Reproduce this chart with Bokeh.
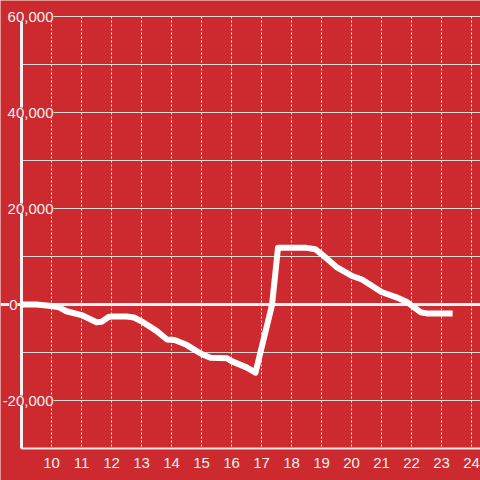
from bokeh.plotting import figure
from bokeh.models import Range1d, ColumnDataSource, LabelSet
from bokeh.core.properties import value
from bokeh.embed import file_html
from bokeh.resources import INLINE

# ---- data ----
hours = [9.0, 9.5, 10.0, 10.25, 10.5, 11.0, 11.5, 11.67, 11.9, 12.0, 12.5, 12.75,
         13.0, 13.5, 13.85, 14.1, 14.5, 15.0, 15.3, 15.85, 16.0, 16.5, 16.8,
         17.35, 17.55, 18.5, 18.8, 19.0, 19.5, 20.0, 20.35, 21.0, 21.5, 21.85,
         22.3, 22.55, 23.37]
values = [0, 0, -300, -600, -1400, -2200, -3700, -3600, -2600, -2500, -2500, -2700,
          -3500, -5500, -7300, -7400, -8400, -10300, -11100, -11200, -11800, -13100, -14200,
          -100, 11800, 11800, 11500, 10500, 7800, 6000, 5200, 2600, 1500, 500,
          -1600, -1900, -1900]
x_ticks = [10, 11, 12, 13, 14, 15, 16, 17, 18, 19, 20, 21, 22, 23, 24]
x_tick_labels = [str(t) for t in x_ticks]
y_grid = [-30000, -20000, -10000, 10000, 20000, 30000, 40000, 50000, 60000]
y_label_values = [60000, 40000, 20000, -20000]
y_label_texts = ["60,000", "40,000", "20,000", "-20,000"]

# ---- layout ----
BG = "#cc2a2e"
W = H = 480
PX_X = 30.0          # px per hour
PX_Y = 48.0 / 10000  # px per unit
AXIS_X = 9.0
Y_TOP, Y_BOT = 60000, -30000
x0 = AXIS_X - 21 / PX_X
x1 = x0 + W / PX_X
y1 = Y_TOP + 16 / PX_Y
y0 = y1 - H / PX_Y
FONT = value("Liberation Sans")
TXT = "#f2f2f2"

p = figure(width=W, height=H, output_backend="svg", toolbar_location=None,
           x_range=Range1d(x0, x1), y_range=Range1d(y0, y1),
           min_border=0, min_border_left=0, min_border_right=0,
           min_border_top=0, min_border_bottom=0)
p.axis.visible = False
p.grid.visible = False
p.outline_line_color = None
p.background_fill_color = BG
p.border_fill_color = BG

# horizontal grid
p.segment(x0=[AXIS_X] * len(y_grid), y0=y_grid, x1=[x1] * len(y_grid), y1=y_grid,
          line_color="#d8d8d8", line_width=1)
# vertical dotted grid
p.segment(x0=x_ticks, y0=[Y_TOP] * len(x_ticks), x1=x_ticks, y1=[Y_BOT] * len(x_ticks),
          line_color="#eeeeee", line_width=1, line_dash="2 2")
# bottom line
p.segment(x0=[AXIS_X], y0=[Y_BOT], x1=[x1], y1=[Y_BOT], line_color="#e6e6e6", line_width=2)
# y axis line
p.segment(x0=[AXIS_X], y0=[Y_TOP], x1=[AXIS_X], y1=[Y_BOT], line_color="#f4f4f4", line_width=3)
# zero line
p.segment(x0=[x0], y0=[0], x1=[x1], y1=[0], line_color="#f4f4f4", line_width=3)

# data line
p.line(hours, values, line_color="white", line_width=6, line_join="round")

# y labels
src = ColumnDataSource(dict(x=[10.0] * len(y_label_values), y=y_label_values, t=y_label_texts))
p.add_layout(LabelSet(x="x", y="y", text="t", source=src, text_align="right",
                      text_baseline="middle", x_offset=2, text_color=TXT,
                      text_font=FONT, text_font_size="15px",
                      background_fill_color=BG))
src0 = ColumnDataSource(dict(x=[AXIS_X], y=[0], t=["0"]))
p.add_layout(LabelSet(x="x", y="y", text="t", source=src0, text_align="right",
                      text_baseline="middle", x_offset=-4, text_color=TXT,
                      text_font=FONT, text_font_size="15px",
                      background_fill_color=BG))

# x labels
label_y = Y_BOT - 14 / PX_Y
p.text(x=x_ticks, y=[label_y] * len(x_ticks), text=x_tick_labels,
       text_align="center", text_baseline="middle", text_color=TXT,
       text_font=FONT, text_font_size="15px")

open("out.html", "w").write(file_html(p, INLINE))
